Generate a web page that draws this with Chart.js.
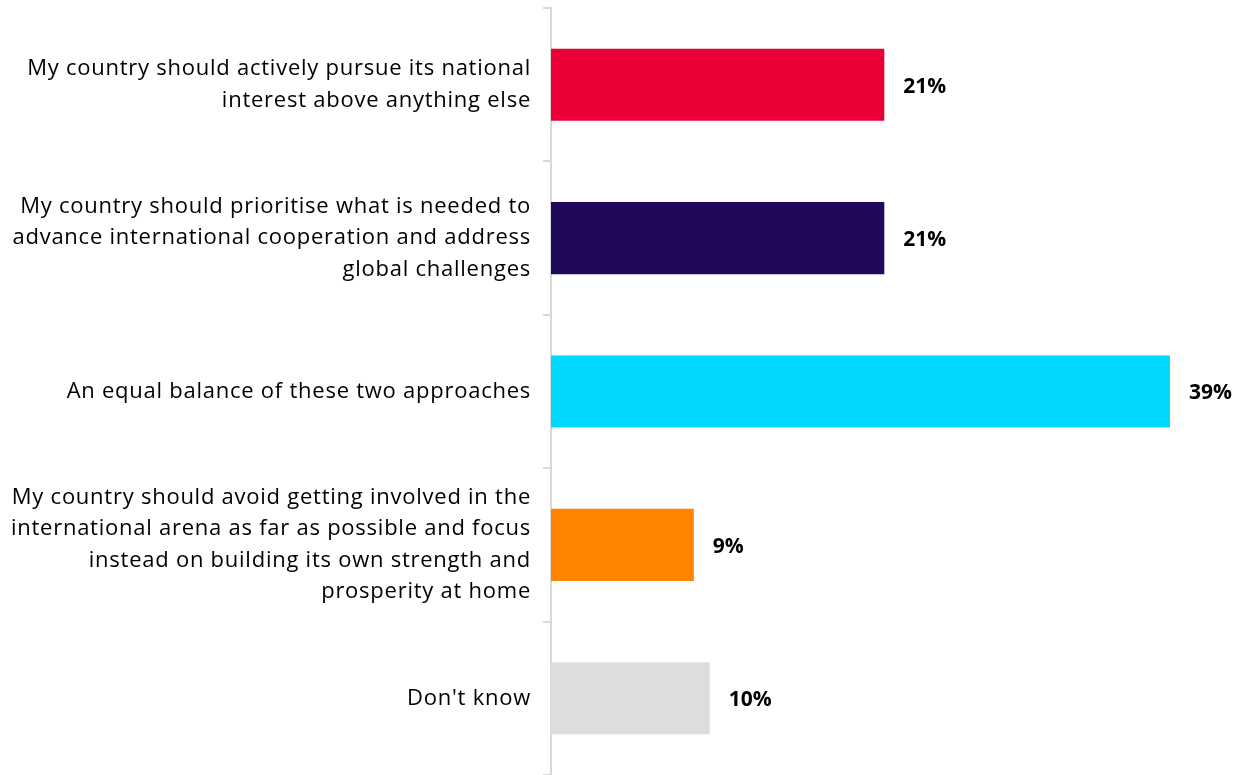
<!DOCTYPE html>
<html>
<head>
<meta charset="utf-8">
<script src="https://cdn.jsdelivr.net/npm/chart.js@4/dist/chart.umd.min.js"></script>
<style>
html,body{margin:0;padding:0;background:#fff;}
#wrap{width:1243px;height:775px;position:relative;}
</style>
</head>
<body>
<div id="wrap"><canvas id="c"></canvas></div>
<script>
const categories = [
  ["My country should actively pursue its national", "interest above anything else"],
  ["My country should prioritise what is needed to", "advance international cooperation and address", "global challenges"],
  ["An equal balance of these two approaches"],
  ["My country should avoid getting involved in the", "international arena as far as possible and focus", "instead on building its own strength and", "prosperity at home"],
  ["Don't know"]
];
const values = [21, 21, 39, 9, 10];
const valueLabels = ["21%", "21%", "39%", "9%", "10%"];
const barColors = ["#EA0037", "#22085A", "#00D8FF", "#FF8400", "#DDDDDD"];

const FONT = "'Open Sans'";
const SPACING = '0.75px';

const spacingPlugin = {
  id: 'spacing',
  beforeLayout(chart) { chart.ctx.letterSpacing = SPACING; },
  beforeDraw(chart) { chart.ctx.letterSpacing = SPACING; }
};

const labelPlugin = {
  id: 'valLabels',
  afterDatasetsDraw(chart) {
    const ctx = chart.ctx;
    const meta = chart.getDatasetMeta(0);
    ctx.save();
    ctx.letterSpacing = '0px';
    ctx.font = "bold 21px " + FONT;
    ctx.fillStyle = "#000";
    ctx.textBaseline = "middle";
    ctx.textAlign = "left";
    meta.data.forEach((bar, i) => {
      ctx.fillText(valueLabels[i], bar.x + 19, bar.y + 2);
    });
    ctx.restore();
  }
};

new Chart(document.getElementById('c'), {
  type: 'bar',
  data: {
    labels: categories,
    datasets: [{
      data: values,
      backgroundColor: barColors,
      borderWidth: 0,
      categoryPercentage: 1,
      barPercentage: 0.47
    }]
  },
  options: {
    indexAxis: 'y',
    responsive: true,
    maintainAspectRatio: false,
    animation: false,
    layout: { padding: { top: 8, bottom: 0, left: 0, right: 0 } },
    plugins: { legend: { display: false }, tooltip: { enabled: false } },
    scales: {
      x: { display: false, min: 0, max: 43.6 },
      y: {
        offset: true,
        grid: { display: true, drawOnChartArea: false, drawTicks: true, tickLength: 8, color: "#D9D9D9", lineWidth: 2, offset: true },
        border: { display: true, color: "#D9D9D9", width: 2 },
        ticks: { color: "#000", font: { family: FONT, size: 22, lineHeight: 1.43 }, padding: 12, crossAlign: 'near' },
        afterFit(scale) { scale.width = 551; scale.paddingTop = 0; scale.paddingBottom = 0; }
      }
    }
  },
  plugins: [spacingPlugin, labelPlugin]
});
</script>
</body>
</html>
